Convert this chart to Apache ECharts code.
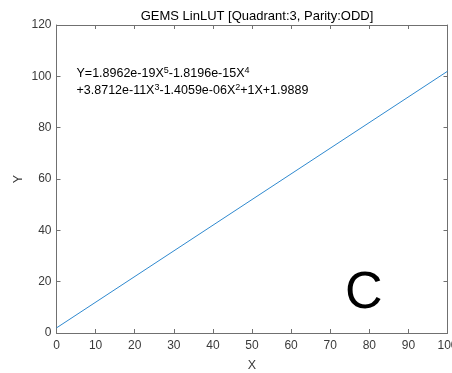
<!DOCTYPE html>
<html><head><meta charset="utf-8">
<script src="https://cdn.jsdelivr.net/npm/echarts@6/dist/echarts.min.js"></script>
<style>html,body{margin:0;padding:0;background:#fff}#c{width:452px;height:373px}</style>
</head><body><div id="c"></div>
<script>
const lineX = [0, 50, 100];
const lineY = [1.99, 51.99, 101.98];
const xTicks = [0, 100, 10];
const yTicks = [0, 120, 20];
const titleText = 'GEMS LinLUT [Quadrant:3, Parity:ODD]';
const eqLine1 = 'Y=1.8962e-19X{s|5}-1.8196e-15X{s|4}';
const eqLine2 = '+3.8712e-11X{s|3}-1.4059e-06X{s|2}+1X+1.9889';
const bigLabel = 'C';

const FONT = 'Liberation Sans, Arial, sans-serif';
const AX = '#707070';
const chart = echarts.init(document.getElementById('c'), null, {renderer: 'canvas'});
const axBase = {
  axisLine: {show: true, onZero: false, lineStyle: {color: AX, width: 1}},
  axisTick: {show: true, inside: true, length: 4, lineStyle: {color: AX}},
  splitLine: {show: false},
  axisLabel: {color: '#3a3a3a', fontFamily: FONT, fontSize: 12}
};
function ax(t, extra) { return Object.assign({}, axBase, {type: 'value', min: t[0], max: t[1], interval: t[2]}, extra); }
const supStyle = {fontSize: 9, verticalAlign: 'top', padding: [0, 0, 7, 0], fontFamily: FONT, fill: '#000'};
chart.setOption({
  animation: false,
  title: {text: titleText, left: 252, top: 5, textAlign: 'center',
    textStyle: {fontFamily: FONT, fontSize: 13, fontWeight: 'normal', color: '#000'}},
  grid: {left: 56.5, right: 4.5, top: 25, bottom: 40, containLabel: false, outerBoundsMode: 'none'},
  xAxis: [
    ax(xTicks, {position: 'bottom', name: 'X', nameLocation: 'middle', nameGap: 26, nameMoveOverlap: false,
      nameTextStyle: {fontFamily: FONT, fontSize: 12.5, color: '#3a3a3a'},
      axisLabel: {color: '#3a3a3a', fontFamily: FONT, fontSize: 12, margin: 7}}),
    ax(xTicks, {position: 'top', axisLabel: {show: false}})
  ],
  yAxis: [
    ax(yTicks, {position: 'left', name: 'Y', nameLocation: 'middle', nameGap: 31, nameMoveOverlap: false,
      nameTextStyle: {fontFamily: FONT, fontSize: 12.5, color: '#3a3a3a'},
      axisLabel: {color: '#3a3a3a', fontFamily: FONT, fontSize: 12, margin: 5}}),
    ax(yTicks, {position: 'right', axisLabel: {show: false}})
  ],
  series: [{
    type: 'line', xAxisIndex: 0, yAxisIndex: 0,
    data: lineX.map((x, i) => [x, lineY[i]]),
    showSymbol: false, symbol: 'none',
    lineStyle: {color: '#2f89cf', width: 1}
  }],
  graphic: [
    {type: 'text', left: 76.5, top: 66, style: {text: eqLine1, fontFamily: FONT, fontSize: 12.5, fill: '#000', rich: {s: supStyle}}},
    {type: 'text', left: 76.5, top: 83, style: {text: eqLine2, fontFamily: FONT, fontSize: 12.5, fill: '#000', rich: {s: supStyle}}},
    {type: 'text', left: 345, top: 268, style: {text: bigLabel, fontFamily: FONT, fontSize: 52, fill: '#000'}}
  ]
});
</script></body></html>
